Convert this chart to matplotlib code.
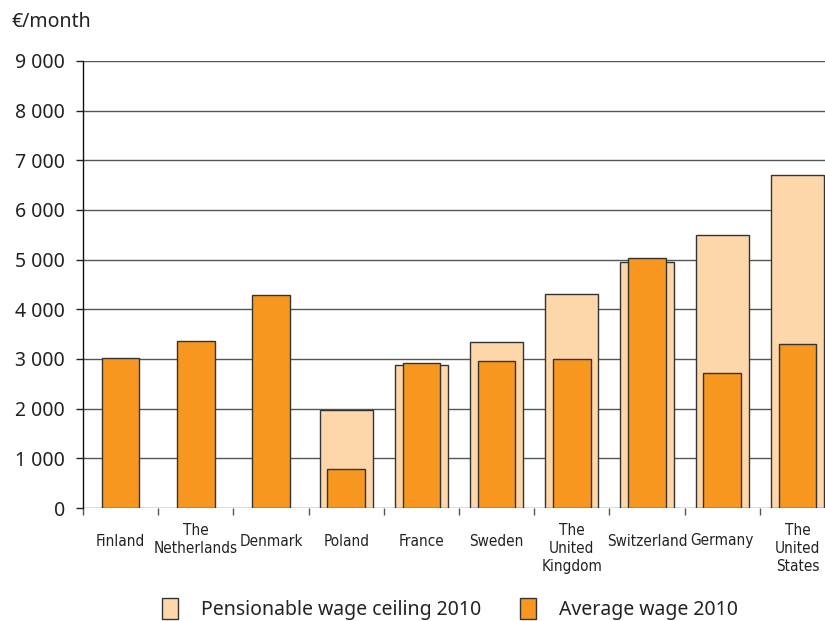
import matplotlib
matplotlib.use('Agg')
import matplotlib.pyplot as plt
import numpy as np
from matplotlib.patches import Patch
import matplotlib.transforms as mtransforms

# Data (EUR per month)
countries = ["Finland", "The\nNetherlands", "Denmark", "Poland", "France", "Sweden",
             "The\nUnited\nKingdom", "Switzerland", "Germany", "The\nUnited\nStates"]
ceiling_2010 = [0, 0, 0, 1970, 2880, 3340, 4300, 4950, 5490, 6710]
average_2010 = [3030, 3370, 4280, 780, 2910, 2960, 2990, 5030, 2720, 3300]
yticks = [0, 1000, 2000, 3000, 4000, 5000, 6000, 7000, 8000, 9000]

light = "#FDD6AA"
orange = "#F7971F"
edge = "#333333"

main_font = ["Noto Sans", "DejaVu Sans"]
narrow_font = ["DejaVu Sans"]

fig = plt.figure(figsize=(8.25, 6.21), dpi=100)
ax = fig.add_axes([83 / 825, 1 - 508 / 621, 752 / 825, 447 / 621])

x = np.arange(len(countries))
ceil_vals = np.array(ceiling_2010)
mask = ceil_vals > 0
ax.bar(x[mask], ceil_vals[mask], width=0.71, color=light, edgecolor=edge,
       linewidth=1.0, zorder=2)
ax.bar(x, average_2010, width=0.5, color=orange, edgecolor=edge,
       linewidth=1.0, zorder=3)

ax.set_xlim(-0.5, len(countries) - 0.5)
ax.set_ylim(0, 9000)

ax.set_yticks(yticks)
ax.set_yticklabels([f"{v:,}".replace(",", " ") for v in yticks],
                   fontsize=14, family=main_font, color="#222222")
ax.tick_params(axis="y", length=5, width=1, pad=8, color="#222222")
ax.grid(axis="y", color="#555555", linewidth=1.0, zorder=1)

# ticks sit between the categories
ax.set_xticks(np.arange(-0.5, len(countries), 1.0))
ax.set_xticklabels([])
ax.tick_params(axis="x", length=5, width=1, color="#555555", direction="out")

for side in ["top", "right", "bottom"]:
    ax.spines[side].set_visible(False)
ax.spines["left"].set_color("#111111")
ax.spines["left"].set_linewidth(1.0)

# category labels under the axis
trans = mtransforms.blended_transform_factory(ax.transData, ax.transAxes)
for xi, name in zip(x, countries):
    n = name.count("\n") + 1
    if n == 1:
        off, va = -33 / 100, "center"
    else:
        off, va = -15 / 100, "top"
    ax.text(xi, 0, name,
            transform=trans + mtransforms.ScaledTranslation(0, off, fig.dpi_scale_trans),
            ha="center", va=va, fontsize=11, family=narrow_font,
            fontstretch="condensed", color="#222222", linespacing=1.25)

fig.text(12 / 825, 1 - 22 / 621, "€/month", ha="left", va="center",
         fontsize=14, family=main_font, color="#222222")

handles = [Patch(facecolor=light, edgecolor=edge, linewidth=1.0),
           Patch(facecolor=orange, edgecolor=edge, linewidth=1.0)]
fig.legend(handles, ["Pensionable wage ceiling 2010", "Average wage 2010"],
           loc="center", bbox_to_anchor=(450 / 825, 1 - 609 / 621), ncol=2,
           frameon=False, prop={"family": main_font, "size": 14},
           handlelength=0.8, handleheight=1.3, handletextpad=1.2,
           columnspacing=2.0, labelcolor="#222222")

fig.savefig("out.png", dpi=100)
